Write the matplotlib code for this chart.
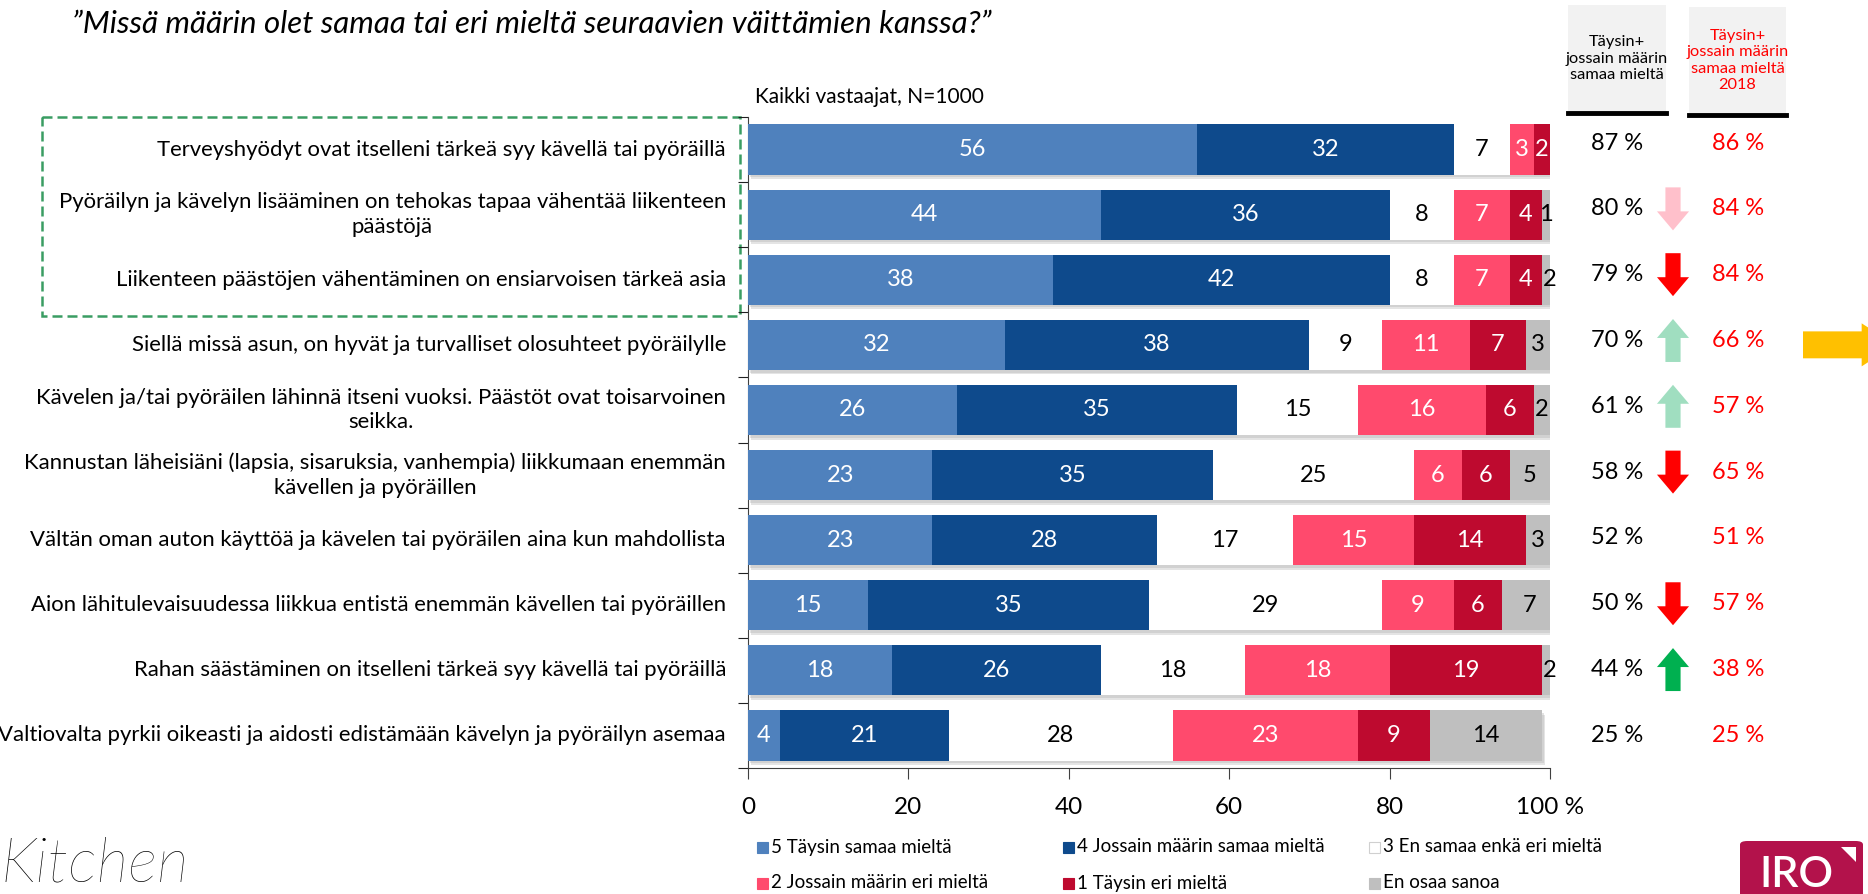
import numpy as np
import matplotlib
matplotlib.use('Agg')
import matplotlib.pyplot as plt
import matplotlib.transforms as mtransforms
from matplotlib.patches import Rectangle, FancyBboxPatch, Polygon
from matplotlib.lines import Line2D

plt.rcParams['font.family'] = ['Lato', 'DejaVu Sans']

# Data (percentages).
statements = [
    'Terveyshyödyt ovat itselleni tärkeä syy kävellä tai pyöräillä',
    'Pyöräilyn ja kävelyn lisääminen on tehokas tapaa vähentää liikenteen\npäästöjä',
    'Liikenteen päästöjen vähentäminen on ensiarvoisen tärkeä asia',
    'Siellä missä asun, on hyvät ja turvalliset olosuhteet pyöräilylle',
    'Kävelen ja/tai pyöräilen lähinnä itseni vuoksi. Päästöt ovat toisarvoinen\nseikka.',
    'Kannustan läheisiäni (lapsia, sisaruksia, vanhempia) liikkumaan enemmän\nkävellen ja pyöräillen',
    'Vältän oman auton käyttöä ja kävelen tai pyöräilen aina kun mahdollista',
    'Aion lähitulevaisuudessa liikkua entistä enemmän kävellen tai pyöräillen',
    'Rahan säästäminen on itselleni tärkeä syy kävellä tai pyöräillä',
    'Valtiovalta pyrkii oikeasti ja aidosti edistämään kävelyn ja pyöräilyn asemaa',
]
taysin_samaa = [56, 44, 38, 32, 26, 23, 23, 15, 18, 4]
jossain_samaa = [32, 36, 42, 38, 35, 35, 28, 35, 26, 21]
neutraali = [7, 8, 8, 9, 15, 25, 17, 29, 18, 28]
jossain_eri = [3, 7, 7, 11, 16, 6, 15, 9, 18, 23]
taysin_eri = [2, 4, 4, 7, 6, 6, 14, 6, 19, 9]
eos = [0, 1, 2, 3, 2, 5, 3, 7, 2, 14]

samaa_2020 = [87, 80, 79, 70, 61, 58, 52, 50, 44, 25]
samaa_2018 = [86, 84, 84, 66, 57, 65, 51, 57, 38, 25]
muutos = ['', 'down_light', 'down', 'up_light', 'up_light', 'down', '', 'down', 'up', '']

series_names = ['5 Täysin samaa mieltä', '4 Jossain määrin samaa mieltä',
                '3 En samaa enkä eri mieltä', '2 Jossain määrin eri mieltä',
                '1 Täysin eri mieltä', 'En osaa sanoa']
series = [taysin_samaa, jossain_samaa, neutraali, jossain_eri, taysin_eri, eos]
colors = ['#4F81BD', '#0E4A8C', '#FFFFFF', '#FF4A6D', '#BE0A2F', '#BFBFBF']
text_colors = ['white', 'white', 'black', 'white', 'white', 'black']

W, H = 1868, 894


def fx(px):
    return px / W


def fy(py):
    return 1 - py / H


fig = plt.figure(figsize=(W / 100, H / 100), dpi=100)
ax = fig.add_axes([fx(748), fy(768), 802 / W, 651 / H])

y = np.arange(len(statements))
bar_h = 0.77

# soft shadow under the bars
totals = np.minimum(np.sum(series, axis=0), 100)
ax.barh(y + 0.07, totals, left=0.4, height=bar_h, color='#c4c4c4', alpha=0.45,
        edgecolor='none', zorder=2)
ax.barh(y + 0.04, totals, left=0.2, height=bar_h, color='#b0b0b0', alpha=0.35,
        edgecolor='none', zorder=2)

left = np.zeros(len(statements))
for vals, c, tc in zip(series, colors, text_colors):
    vals = np.array(vals)
    ax.barh(y, vals, left=left, height=bar_h, color=c, edgecolor='none', zorder=3)
    for yi, (l, v) in enumerate(zip(left, vals)):
        if v > 0:
            ax.text(l + v / 2, yi, str(v), ha='center', va='center', color=tc,
                    fontsize=17, zorder=4)
    left = left + vals

ax.set_xlim(0, 100)
ax.set_ylim(len(statements) - 0.5, -0.5)
ax.set_xticks([0, 20, 40, 60, 80, 100])
ax.set_xticklabels(['0', '20', '40', '60', '80', '100 %'])
ax.set_yticks(np.arange(-0.5, len(statements), 1))
ax.set_yticklabels([])
ax.tick_params(axis='x', length=8, pad=13, labelsize=17.5, color='#404040')
ax.tick_params(axis='y', length=7, color='#202020')
for s in ['top', 'right']:
    ax.spines[s].set_visible(False)
for s in ['left', 'bottom']:
    ax.spines[s].set_color('#404040')

# statement labels
lab_tr = mtransforms.blended_transform_factory(ax.transAxes, ax.transData)
for yi, s in enumerate(statements):
    ax.text(-22 / 802, yi, s, transform=lab_tr, ha='right', va='center',
            multialignment='center', fontsize=15.9, linespacing=1.3)

# green dashed box around the first three statements
tr = mtransforms.blended_transform_factory(fig.transFigure, ax.transData)
ax.add_patch(Rectangle((fx(42), -0.5), fx(740) - fx(42), 3.05, transform=tr,
                       fill=False, edgecolor='#3A9D63', linestyle=(0, (4, 2)),
                       lw=1.8, clip_on=False))

# right-hand columns
for yi, (a, b, m) in enumerate(zip(samaa_2020, samaa_2018, muutos)):
    yy = yi - 0.1 + 0.011 * yi
    ax.text(fx(1617), yy, f'{a} %', transform=tr, ha='center', va='center',
            fontsize=17)
    ax.text(fx(1738), yy, f'{b} %', transform=tr, ha='center', va='center',
            fontsize=17, color='#FF0000')
    if m:
        col = {'down': '#FF0000', 'down_light': '#FFC0CB', 'up': '#00B050',
               'up_light': '#A0DEC0'}[m]
        d = 0.33 if m.startswith('down') else -0.33
        ax.annotate('', xy=(fx(1673), yy + d), xytext=(fx(1673), yy - d),
                    xycoords=tr, textcoords=tr, annotation_clip=False,
                    arrowprops=dict(arrowstyle='simple,head_length=0.65,head_width=1.1,tail_width=0.52',
                                    mutation_scale=21, color=col, lw=0,
                                    shrinkA=0, shrinkB=0))

# yellow pointer arrow at the right edge
ax.annotate('', xy=(fx(1895), 3), xytext=(fx(1803), 3), xycoords=tr, textcoords=tr,
            annotation_clip=False,
            arrowprops=dict(arrowstyle='simple,head_length=1.2,head_width=1.55,tail_width=0.97',
                            mutation_scale=20, color='#FFC000', lw=0,
                            shrinkA=0, shrinkB=0))

# header boxes
for x0, x1, y0, y1, txt, c in [
        (1568, 1666, 5, 112, 'Täysin+\njossain määrin\nsamaa mieltä', 'black'),
        (1689, 1786, 7, 114, 'Täysin+\njossain määrin\nsamaa mieltä\n2018', '#FF0000')]:
    fig.add_artist(Rectangle((fx(x0), fy(y1)), (x1 - x0) / W, (y1 - y0) / H,
                             facecolor='#F2F2F2', edgecolor='none',
                             transform=fig.transFigure))
    fig.add_artist(Line2D([fx(x0), fx(x1)], [fy(y1 + 1)] * 2, lw=3.5,
                          color='black', transform=fig.transFigure))
    fig.text(fx((x0 + x1) / 2), fy((y0 + y1) / 2), txt, ha='center', va='center',
             fontsize=11.8, color=c, linespacing=1.2)

fig.text(fx(755), fy(97), 'Kaikki vastaajat, N=1000', va='center', fontsize=15)
fig.text(fx(72), fy(24), '”Missä määrin olet samaa tai eri mieltä seuraavien väittämien kanssa?”',
         va='center', fontsize=22.5, style='italic')

# legend, laid out in three evenly spaced columns
leg_x = [757, 1063, 1369]
leg_y = [847, 883]
for k in range(len(series_names)):
    cx, cy = leg_x[k % 3], leg_y[k // 3]
    fig.add_artist(Rectangle((fx(cx), fy(cy + 6)), 11 / W, 11 / H,
                             facecolor=colors[k],
                             edgecolor='#d0d0d0' if colors[k] == '#FFFFFF' else colors[k],
                             lw=0.8, transform=fig.transFigure))
    fig.text(fx(cx + 14), fy(cy), series_names[k], va='center', fontsize=13.5)

# logos
fig.text(fx(0), fy(836), 'Kitchen', fontsize=45, style='italic', va='top',
         fontweight='light')
fig.add_artist(FancyBboxPatch((fx(1740), fy(910)), 123 / W, 69 / H,
                              boxstyle='round,pad=0,rounding_size=0.004',
                              facecolor='#B3124B', edgecolor='none',
                              transform=fig.transFigure))
fig.add_artist(Polygon([[fx(1841), fy(847)], [fx(1856), fy(847)], [fx(1856), fy(862)]],
                       closed=True, facecolor='white', edgecolor='none',
                       transform=fig.transFigure))
fig.text(fx(1796), fy(856), 'IRO', fontsize=31, fontweight='semibold', color='white',
         ha='center', va='top')

fig.savefig('out.png', dpi=100)
